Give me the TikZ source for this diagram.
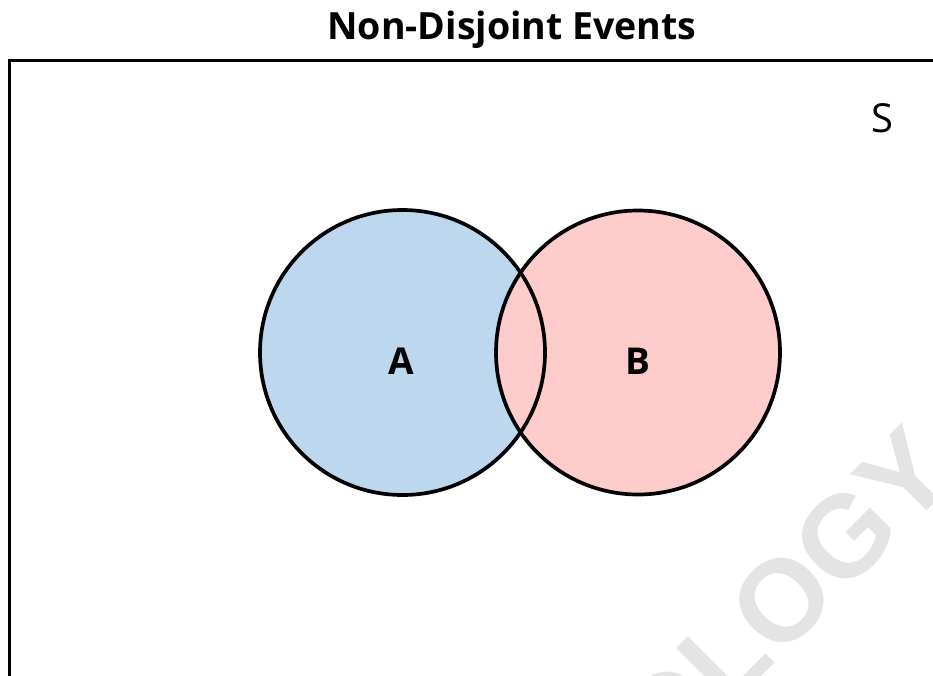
\documentclass[tikz,border=0pt]{standalone}
\usepackage{fontspec}
\setmainfont{Open Sans}
\newfontfamily\markfont{Liberation Sans}
\definecolor{setA}{RGB}{189,215,238}
\definecolor{setB}{RGB}{255,204,204}
\definecolor{markgray}{RGB}{228,228,228}
\begin{document}
\begin{tikzpicture}[x=1pt,y=-1pt,
  outline/.style={line width=3.7pt, draw=black},
  setlabel/.style={font=\fontsize{37}{37}\selectfont\bfseries, inner sep=0pt},
  headline/.style={font=\fontsize{37.5}{37.5}\selectfont\bfseries, inner sep=0pt}]
  \useasboundingbox (0,0) rectangle (933,675);
  \clip (0,0) rectangle (933,675);
  % faint background mark
  \node[font=\markfont\fontsize{116}{116}\selectfont\bfseries, text=markgray,
        rotate=45, inner sep=0pt] (mark) at (784,598) {OLOGY};
  % sample space frame
  \draw[line width=3pt] (9.5,700) -- (9.5,60.5) -- (950,60.5);
  \node[headline] (title) at (512,30) {Non-Disjoint Events};
  \node[font=\fontsize{40}{40}\selectfont, inner sep=0pt] (S) at (882,118.5) {S};
  % event sets
  \fill[setA] (402.5,352.5) circle (142.5);
  \fill[setB] (638,352.5) circle (142);
  \draw[outline] (402.5,352.5) circle (142.5);
  \draw[outline] (638,352.5) circle (142);
  \node[setlabel] (A) at (401,361) {A};
  \node[setlabel] (B) at (637.5,361) {B};
\end{tikzpicture}
\end{document}
